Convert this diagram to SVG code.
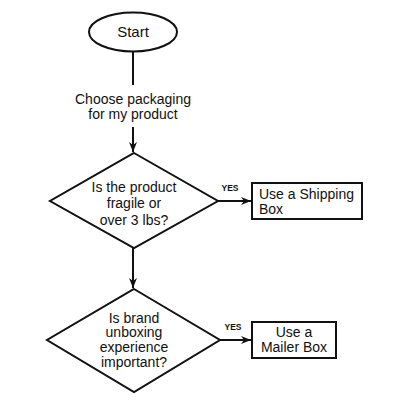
<svg xmlns="http://www.w3.org/2000/svg" width="400" height="400" viewBox="0 0 400 400">
<defs>
<style>
.s{fill:#fff;stroke:#111;stroke-width:2}
.t{font-family:"Liberation Sans",Arial,sans-serif;font-size:14px;fill:#111}
.y{font-family:"Liberation Sans",Arial,sans-serif;font-size:8.5px;font-weight:bold;fill:#111}
.c{stroke:#111;stroke-width:2;fill:none}
</style>
<marker id="a" viewBox="0 0 10 10" refX="10" refY="5" markerWidth="5" markerHeight="5" orient="auto" markerUnits="strokeWidth">
<path d="M0,1 L10,5 L0,9 L3,5 Z" fill="#111"/>
</marker>
</defs>
<rect width="400" height="400" fill="#fff"/>
<g id="connectors">
<line class="c" x1="133" y1="52" x2="133" y2="85"/>
<line class="c" x1="133" y1="127" x2="133" y2="152" marker-end="url(#a)"/>
<line class="c" x1="218" y1="201" x2="251" y2="201" marker-end="url(#a)"/>
<line class="c" x1="133" y1="248" x2="133" y2="288" marker-end="url(#a)"/>
<line class="c" x1="220" y1="340" x2="251" y2="340" marker-end="url(#a)"/>
<text class="y" x="230" y="191" text-anchor="middle">YES</text>
<text class="y" x="233" y="330" text-anchor="middle">YES</text>
</g>
<g id="start">
<ellipse class="s" cx="133" cy="32" rx="44" ry="19.5"/>
<text class="t" x="133" y="37" text-anchor="middle" style="font-size:15px">Start</text>
</g>
<g id="choose">
<text class="t" x="133" y="103.5" text-anchor="middle">Choose packaging</text>
<text class="t" x="133" y="118.5" text-anchor="middle">for my product</text>
</g>
<g id="decision1">
<polygon class="s" points="134,153 218,201 134,248 50,201"/>
<text class="t" x="134" y="192" text-anchor="middle">Is the product</text>
<text class="t" x="134" y="208" text-anchor="middle">fragile or</text>
<text class="t" x="134" y="225" text-anchor="middle">over 3 lbs?</text>
</g>
<g id="shipping">
<rect class="s" x="252" y="183" width="110" height="36"/>
<text class="t" x="259" y="198.5">Use a Shipping</text>
<text class="t" x="259" y="213.5">Box</text>
</g>
<g id="decision2">
<polygon class="s" points="134,289 220,340 134,392 47,340"/>
<text class="t" x="134" y="322.5" text-anchor="middle">Is brand</text>
<text class="t" x="134" y="337" text-anchor="middle">unboxing</text>
<text class="t" x="134" y="352" text-anchor="middle">experience</text>
<text class="t" x="134" y="366.5" text-anchor="middle">important?</text>
</g>
<g id="mailer">
<rect class="s" x="252" y="322" width="84" height="36"/>
<text class="t" x="294" y="337" text-anchor="middle">Use a</text>
<text class="t" x="294" y="352" text-anchor="middle">Mailer Box</text>
</g>
</svg>
